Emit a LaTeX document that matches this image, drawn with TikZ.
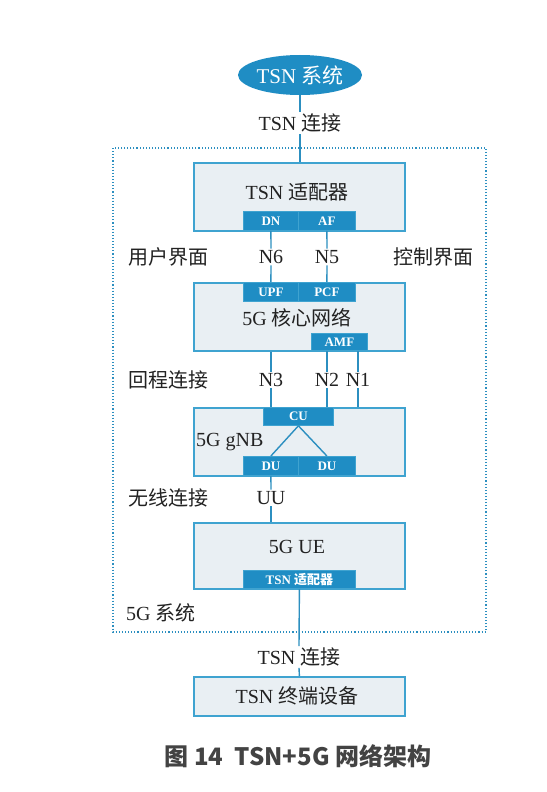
\documentclass[tikz,border=0pt]{standalone}
\usepackage{fontspec}
\setmainfont{Liberation Serif}
\newfontfamily\cjk{Noto Sans CJK SC}
\usetikzlibrary{shapes.geometric}
\definecolor{teal1}{HTML}{2C8FC0}
\definecolor{boxfill}{HTML}{E9EFF3}
\definecolor{boxline}{HTML}{3FA3D0}
\definecolor{subfill}{HTML}{1F8DC4}
\definecolor{txt}{HTML}{222222}
\tikzset{
  bigbox/.style={draw=boxline, line width=1.8pt, fill=boxfill, minimum width=211pt, inner sep=0pt, anchor=north west},
  subbox/.style={draw=boxline, line width=0.8pt, fill=subfill, text=white, inner sep=0pt, anchor=north west, font=\fontsize{13}{14}\selectfont\bfseries},
  lbl/.style={text=txt, inner sep=1.5pt, font=\fontsize{20}{22}\selectfont},
  conn/.style={draw=teal1, line width=1.4pt},
}
\begin{document}
\begin{tikzpicture}[x=1pt,y=-1pt]
\useasboundingbox (0,0) rectangle (546,792);
\fill[white] (0,0) rectangle (546,792);
% dotted 5G system frame
\draw[teal1, line width=1.1pt, dotted] (113,148) rectangle (486,632);
% TSN system ellipse
\node[ellipse, fill=subfill, text=white, minimum width=124pt, minimum height=40pt, inner sep=0pt, font=\fontsize{21}{23}\selectfont] (tsnsys) at (300,75) {TSN {\cjk 系统}};
\node[lbl] (tsnc1) at (300,123) {TSN {\cjk 连接}};
% TSN adapter
\node[bigbox, minimum height=68pt] (adapter) at (193,162) {};
\node[lbl] (adtitle) at (297,192) {TSN {\cjk 适配器}};
\node[subbox, minimum width=55pt, minimum height=19pt] (dn) at (243,211) {DN};
\node[subbox, minimum width=57pt, minimum height=19pt] (af) at (298,211) {AF};
% labels row 1
\node[lbl] (up) at (168,257) {\cjk 用户界面};
\node[lbl] (n6) at (271,257) {N6};
\node[lbl] (n5) at (327,257) {N5};
\node[lbl] (cp) at (433,257) {\cjk 控制界面};
% core network
\node[bigbox, minimum height=68pt] (core) at (193,282) {};
\node[subbox, minimum width=55pt, minimum height=19pt] (upf) at (243,282) {UPF};
\node[subbox, minimum width=57pt, minimum height=19pt] (pcf) at (298,282) {PCF};
\node[lbl] (coretitle) at (297,318) {5G {\cjk 核心网络}};
\node[subbox, minimum width=56pt, minimum height=17pt] (amf) at (311,333) {AMF};
% labels row 2
\node[lbl] (bh) at (168,380) {\cjk 回程连接};
\node[lbl] (n3) at (271,380) {N3};
\node[lbl] (n2) at (327,380) {N2};
\node[lbl] (n1) at (358,380) {N1};
% gNB
\node[bigbox, minimum height=68pt] (gnb) at (193,407) {};
\node[subbox, minimum width=70pt, minimum height=18pt] (cu) at (263,407) {CU};
\node[lbl, anchor=west, inner sep=0pt] (gnbtitle) at (196,442) {5G gNB};
\node[subbox, minimum width=55pt, minimum height=19pt] (du1) at (243,456) {DU};
\node[subbox, minimum width=57pt, minimum height=19pt] (du2) at (298,456) {DU};
% labels row 3
\node[lbl] (wl) at (168,498) {\cjk 无线连接};
\node[lbl] (uu) at (271,498) {UU};
% UE
\node[bigbox, minimum height=66pt] (ue) at (193,522) {};
\node[lbl] (uetitle) at (297,547) {5G UE};
\node[subbox, minimum width=112pt, minimum height=18pt] (ueada) at (243,570) {TSN {\cjk 适配器}};
\node[lbl, anchor=west, inner sep=0pt] (sys5g) at (126,613) {5G {\cjk 系统}};
% bottom
\node[lbl] (tsnc2) at (299,657) {TSN {\cjk 连接}};
\node[bigbox, minimum height=39pt] (term) at (193,676) {};
\node[lbl] (termtitle) at (297,696) {TSN {\cjk 终端设备}};
% caption
\node[text=txt!85, inner sep=0pt, font=\cjk\bfseries\fontsize{24}{26}\selectfont] (cap) at (298,756) {图 14\ \ TSN+5G 网络架构};
% connectors
\draw[conn] (tsnsys.south) -- (tsnc1.north);
\draw[conn] (tsnc1.south) -- (tsnc1.south |- adapter.north);
\draw[conn] (dn.south) -- (n6.north);
\draw[conn] (n6.south) -- (upf.north);
\draw[conn] (af.south) -- (n5.north);
\draw[conn] (n5.south) -- (pcf.north);
\draw[conn] (n3 |- core.south) -- (n3.north);
\draw[conn] (n3.south) -- (n3 |- cu.north);
\draw[conn] (n2 |- amf.south) -- (n2.north);
\draw[conn] (n2.south) -- (n2 |- cu.north);
\draw[conn] (n1 |- amf.south) -- (n1.north);
\draw[conn] (n1.south) -- (n1 |- gnb.north);
\draw[conn] (cu.south) -- (du1.north);
\draw[conn] (cu.south) -- (du2.north);
\draw[conn] (du1.south) -- (uu.north);
\draw[conn] (uu.south) -- (uu |- ue.north);
\draw[conn] (ueada.south) -- (tsnc2.north);
\draw[conn] (tsnc2.south) -- (term.north);
\end{tikzpicture}
\end{document}
